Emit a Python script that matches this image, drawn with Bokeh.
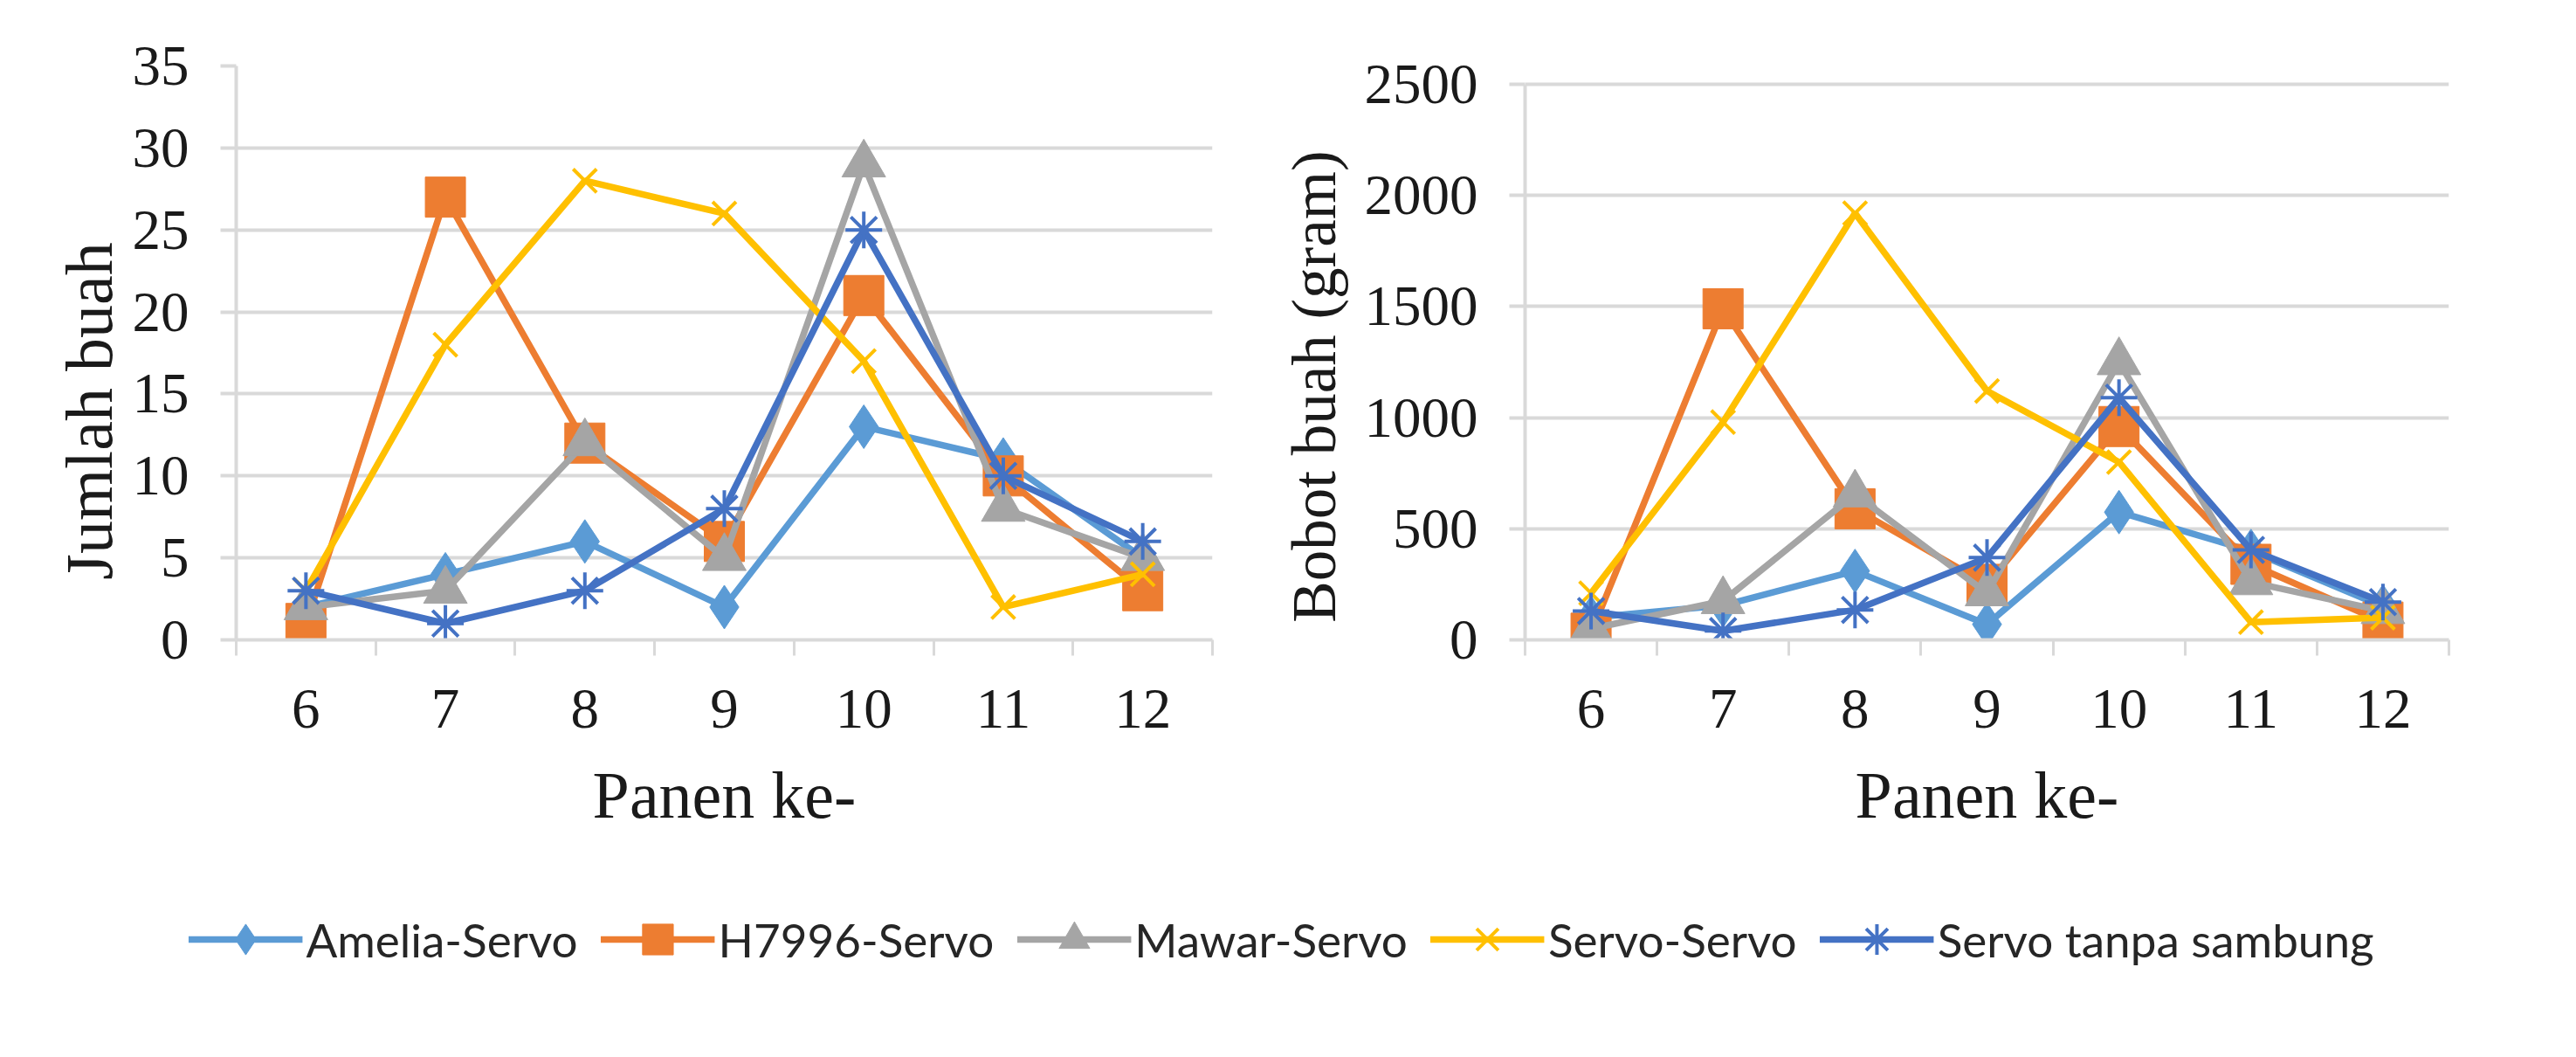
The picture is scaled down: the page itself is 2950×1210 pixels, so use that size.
import math
from bokeh.plotting import figure
from bokeh.models import Range1d, FixedTicker, Label, Legend, LegendItem
from bokeh.layouts import column, row
from bokeh.embed import file_html
from bokeh.resources import INLINE

# ---------------- data ----------------
panen = [6, 7, 8, 9, 10, 11, 12]
series_names = ["Amelia-Servo", "H7996-Servo", "Mawar-Servo", "Servo-Servo", "Servo tanpa sambung"]

jumlah_amelia = [2, 4, 6, 2, 13, 11, 5]
jumlah_h7996 = [1, 27, 12, 6, 21, 10, 3]
jumlah_mawar = [2, 3, 12, 5, 29, 8, 5]
jumlah_servo = [3, 18, 28, 26, 17, 2, 4]
jumlah_tanpa = [3, 1, 3, 8, 25, 10, 6]

bobot_amelia = [100, 155, 310, 70, 575, 400, 150]
bobot_h7996 = [30, 1490, 590, 250, 960, 340, 80]
bobot_mawar = [50, 175, 655, 210, 1250, 260, 130]
bobot_servo = [210, 980, 1920, 1120, 800, 80, 100]
bobot_tanpa = [130, 40, 135, 370, 1090, 405, 170]

jumlah_ticks = [0, 5, 10, 15, 20, 25, 30, 35]
bobot_ticks = [0, 500, 1000, 1500, 2000, 2500]

x_title = "Panen ke-"
y1_title = "Jumlah buah"
y2_title = "Bobot buah (gram)"

jumlah_series = [jumlah_amelia, jumlah_h7996, jumlah_mawar, jumlah_servo, jumlah_tanpa]
bobot_series = [bobot_amelia, bobot_h7996, bobot_mawar, bobot_servo, bobot_tanpa]

# ---------------- style / layout ----------------
colors = ["#5B9BD5", "#ED7D31", "#A5A5A5", "#FFC000", "#4472C4"]
markers = ["diamond", "square", "triangle", "x", "asterisk"]
msizes = [50, 46, 50, 38, 42]
GRID = "#D9D9D9"
SERIF = "Liberation Serif"
TXT = "#1a1a1a"
ROW_H = 992
B_TOP = 75          # shared top border of every plot in the row
B_BOT = 260         # shared bottom border
FRAME_H = ROW_H - B_TOP - B_BOT   # 657 px
RIGHT_TICK_SPAN = 636             # px between 0 and 2500 on the right chart

minor = [v - 0.5 for v in panen] + [panen[-1] + 0.5]


def add_series(p, xs, series, lw):
    rends = []
    for i, ys in enumerate(series):
        rl = p.line(xs, ys, line_color=colors[i], line_width=lw)
        if markers[i] in ("x", "asterisk"):
            rs = p.scatter(xs, ys, marker=markers[i], size=msizes[i], line_color=colors[i],
                           line_width=4, fill_color=None)
        else:
            rs = p.scatter(xs, ys, marker=markers[i], size=msizes[i], line_color=colors[i],
                           line_width=1, fill_color=colors[i])
        rends.append([rl, rs])
    return rends


def make_fig(width, bl, br, ytop, yticks, series):
    p = figure(width=width, height=ROW_H, output_backend="svg", toolbar_location=None,
               x_range=Range1d(panen[0] - 0.5, panen[-1] + 0.5), y_range=Range1d(0, ytop),
               min_border_left=bl, min_border_right=br, min_border_top=B_TOP,
               min_border_bottom=B_BOT)
    p.outline_line_color = None
    p.background_fill_color = "white"
    p.border_fill_color = "white"
    p.xgrid.grid_line_color = None
    p.ygrid.grid_line_color = GRID
    p.ygrid.grid_line_width = 4
    p.ygrid.ticker = FixedTicker(ticks=yticks)

    xa = p.xaxis[0]
    xa.ticker = FixedTicker(ticks=panen, minor_ticks=minor)
    xa.axis_line_color = GRID
    xa.axis_line_width = 4
    xa.major_tick_line_color = None
    xa.major_tick_out = 0
    xa.major_tick_in = 0
    xa.minor_tick_line_color = GRID
    xa.minor_tick_line_width = 3
    xa.minor_tick_out = 18
    xa.minor_tick_in = 0
    xa.major_label_text_font = SERIF
    xa.major_label_text_font_size = "65px"
    xa.major_label_text_color = TXT
    xa.major_label_standoff = 39
    xa.axis_label = x_title
    xa.axis_label_text_font = SERIF
    xa.axis_label_text_font_size = "76px"
    xa.axis_label_text_font_style = "normal"
    xa.axis_label_text_color = TXT
    xa.axis_label_standoff = 32

    ya = p.yaxis[0]
    ya.ticker = FixedTicker(ticks=yticks)
    ya.bounds = (yticks[0], yticks[-1])
    ya.axis_line_color = GRID
    ya.axis_line_width = 4
    ya.major_tick_line_color = GRID
    ya.major_tick_line_width = 4
    ya.major_tick_out = 18
    ya.major_tick_in = 0
    ya.minor_tick_line_color = None
    ya.major_label_text_font = SERIF
    ya.major_label_text_font_size = "65px"
    ya.major_label_text_color = TXT
    ya.major_label_standoff = 36

    add_series(p, panen, series, 7.5)
    return p


def title_fig(width, text, size, tx, ty):
    # frame is FRAME_H tall, aligned with the charts' frames; y measured up from frame bottom
    t = figure(width=width, height=ROW_H, output_backend="svg", toolbar_location=None,
               x_range=Range1d(0, width), y_range=Range1d(0, FRAME_H),
               x_axis_location=None, y_axis_location=None,
               min_border_left=0, min_border_right=0, min_border_top=B_TOP,
               min_border_bottom=B_BOT)
    t.outline_line_color = None
    t.xgrid.grid_line_color = None
    t.ygrid.grid_line_color = None
    t.add_layout(Label(x=tx, y=ty, text=text, angle=math.pi / 2, text_align="center",
                       text_baseline="alphabetic", text_font=SERIF, text_font_size=size,
                       text_color=TXT))
    return t


t1 = title_fig(138, y1_title, "76px", 101, 262)
p1 = make_fig(1294, 132, 44, jumlah_ticks[-1], jumlah_ticks, jumlah_series)
t2 = title_fig(120, y2_title, "71px", 72, 290)
p2 = make_fig(1382, 194, 130, bobot_ticks[-1] * FRAME_H / RIGHT_TICK_SPAN, bobot_ticks, bobot_series)

# legend figure (series drawn outside its visible range, only the legend shows)
p3 = figure(width=2934, height=166, output_backend="svg", toolbar_location=None,
            x_range=Range1d(0, 1), y_range=Range1d(0, 1),
            x_axis_location=None, y_axis_location=None, min_border=0)
p3.outline_line_color = None
p3.xgrid.grid_line_color = None
p3.ygrid.grid_line_color = None
rends = add_series(p3, panen, jumlah_series, 7.5)
items = [LegendItem(label=name, renderers=rends[i]) for i, name in enumerate(series_names)]
legend = Legend(items=items, orientation="horizontal", location="center",
                glyph_width=131, glyph_height=88, label_standoff=4, spacing=26,
                padding=0, margin=0, border_line_color=None, background_fill_alpha=0,
                label_text_font="Lato", label_text_font_size="53px", label_text_color="#262626")
p3.add_layout(legend)

layout = column(row(t1, p1, t2, p2), p3)
open("out.html", "w").write(file_html(layout, INLINE))
